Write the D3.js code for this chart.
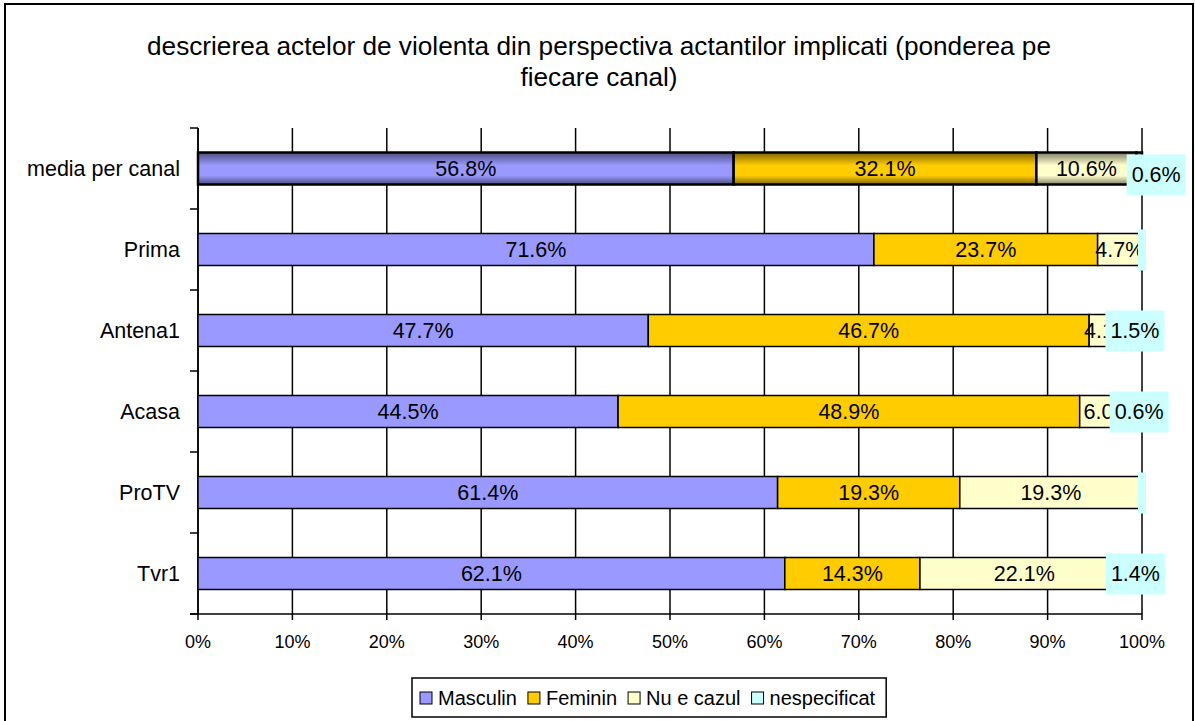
<!DOCTYPE html>
<html>
<head>
	<meta charset="utf-8">
	<script src="https://d3js.org/d3.v7.min.js"></script>
	<title>descrierea actelor de violenta</title>
	<style>
		body { margin: 0; background: #fff; }
		svg text { font-family: "Liberation Sans", Arial, sans-serif; fill: #000; }
	</style>
</head>
<body>
	<div id="chart"></div>

	<script type="text/javascript">

		// values (percent per channel)
		var categories = ["media per canal", "Prima", "Antena1", "Acasa", "ProTV", "Tvr1"];
		var seriesNames = ["Masculin", "Feminin", "Nu e cazul", "nespecificat"];
		var masculin = [56.8, 71.6, 47.7, 44.5, 61.4, 62.1];
		var feminin = [32.1, 23.7, 46.7, 48.9, 19.3, 14.3];
		var nuECazul = [10.6, 4.7, 4.1, 6.0, 19.3, 22.1];
		var nespecificat = [0.6, 0.0, 1.5, 0.6, 0.0, 1.4];
		var colors = ["#9999FF", "#FFCC00", "#FFFFCC", "#CCFFFF"];
		var shadeColors = ["#4d4d80", "#806600", "#80806a", "#668080"];
		var titleLines = ["descrierea actelor de violenta din perspectiva actantilor implicati (ponderea pe",
						  "fiecare canal)"];

		var svgwidth = 1195;
		var svgheight = 721;
		var plotLeft = 198, plotRight = 1142, plotTop = 128, plotBottom = 614;

		var data = categories.map(function(c, i){
			return {
				cat: c,
				Masculin: masculin[i],
				Feminin: feminin[i],
				"Nu e cazul": nuECazul[i],
				nespecificat: nespecificat[i]
			};
		});

		var stacked = d3.stack()
			.keys(seriesNames)
			.offset(d3.stackOffsetExpand)(data);

		var xScale = d3.scaleLinear().domain([0, 1]).range([plotLeft, plotRight]);
		var yScale = d3.scaleBand()
			.domain(categories)
			.range([plotTop, plotBottom])
			.paddingInner(0.605)
			.paddingOuter(0.3025);
		var color = d3.scaleOrdinal().domain(seriesNames).range(colors);

		var svg = d3.select("#chart").append("svg")
			.attr("width", svgwidth)
			.attr("height", svgheight);

		// gradients for the first (average) bar
		var defs = svg.append("defs");
		seriesNames.forEach(function(s, i){
			var g = defs.append("linearGradient")
				.attr("id", "grad" + i)
				.attr("x1", 0).attr("y1", 0).attr("x2", 0).attr("y2", 1);
			g.append("stop").attr("offset", "0%").attr("stop-color", shadeColors[i]);
			g.append("stop").attr("offset", "40%").attr("stop-color", colors[i]);
			g.append("stop").attr("offset", "72%").attr("stop-color", colors[i]);
			g.append("stop").attr("offset", "100%").attr("stop-color", shadeColors[i]);
		});

		// outer frame
		svg.append("rect")
			.attr("x", 5).attr("y", 4)
			.attr("width", 1188).attr("height", 730)
			.attr("fill", "none")
			.attr("stroke", "#000")
			.attr("stroke-width", 2);

		// title
		svg.append("g").selectAll("text")
			.data(titleLines).enter().append("text")
			.attr("x", 599)
			.attr("y", function(d, i){ return 55 + i * 31; })
			.attr("text-anchor", "middle")
			.style("font-size", "26.2px")
			.text(function(d){ return d; });

		// vertical gridlines
		svg.append("g").selectAll("line")
			.data(xScale.ticks(10)).enter().append("line")
			.attr("x1", function(d){ return xScale(d); })
			.attr("x2", function(d){ return xScale(d); })
			.attr("y1", plotTop).attr("y2", plotBottom + 6)
			.attr("stroke", "#000")
			.attr("stroke-width", 1.5);

		// category boundary ticks
		var bounds = d3.range(categories.length + 1).map(function(i){ return plotTop + i * yScale.step(); });
		svg.append("g").selectAll("line")
			.data(bounds).enter().append("line")
			.attr("x1", plotLeft - 8).attr("x2", plotLeft)
			.attr("y1", function(d){ return d; })
			.attr("y2", function(d){ return d; })
			.attr("stroke", "#000")
			.attr("stroke-width", 1.5);

		// axis lines
		svg.append("line")
			.attr("x1", plotLeft).attr("x2", plotLeft)
			.attr("y1", plotTop).attr("y2", plotBottom)
			.attr("stroke", "#000").attr("stroke-width", 1.5);
		svg.append("line")
			.attr("x1", plotLeft - 8).attr("x2", plotRight)
			.attr("y1", plotBottom).attr("y2", plotBottom)
			.attr("stroke", "#000").attr("stroke-width", 1.5);

		// tick labels
		svg.append("g").selectAll("text")
			.data(xScale.ticks(10)).enter().append("text")
			.attr("x", function(d){ return xScale(d); })
			.attr("y", 648)
			.attr("text-anchor", "middle")
			.style("font-size", "18px")
			.text(d3.format(".0%"));

		// category labels
		svg.append("g").selectAll("text")
			.data(categories).enter().append("text")
			.attr("x", 180)
			.attr("y", function(d){ return yScale(d) + yScale.bandwidth() / 2; })
			.attr("dy", "0.35em")
			.attr("text-anchor", "end")
			.style("font-size", "21.5px")
			.text(function(d){ return d; });

		// bars
		var layers = svg.append("g").selectAll("g")
			.data(stacked).enter().append("g");

		layers.selectAll("rect")
			.data(function(d){ return d.map(function(p){ return {key: d.key, idx: d.index, p: p}; }); })
			.enter().append("rect")
			.attr("x", function(d){ return xScale(d.p[0]); })
			.attr("y", function(d){ return yScale(d.p.data.cat); })
			.attr("width", function(d){ return xScale(d.p[1]) - xScale(d.p[0]); })
			.attr("height", yScale.bandwidth())
			.attr("fill", function(d){
				return d.p.data.cat === categories[0] ? "url(#grad" + d.idx + ")" : color(d.key);
			})
			.attr("stroke", "#000")
			.attr("stroke-width", function(d){ return d.p.data.cat === categories[0] ? 2.5 : 1.5; });

		// value labels
		var labels = svg.append("g");
		stacked.forEach(function(layer, li){
			layer.forEach(function(p){
				var v = p.data[layer.key];
				var cx = (xScale(p[0]) + xScale(p[1])) / 2;
				var cy = yScale(p.data.cat) + yScale.bandwidth() / 2;
				var last = li === seriesNames.length - 1;
				if (last && p.data.cat === categories[0]) { cx += 17; cy += 6; }
				var g = labels.append("g");
				var t = g.append("text")
					.attr("x", cx).attr("y", cy)
					.attr("dy", "0.35em")
					.attr("text-anchor", "middle")
					.style("font-size", "21.5px")
					.text(v > 0 ? v.toFixed(1) + "%" : "");
				if (last) {
					var w = v > 0 ? t.node().getComputedTextLength() + 10 : 8;
					g.insert("rect", "text")
						.attr("x", cx - w / 2).attr("y", cy - 20)
						.attr("width", w).attr("height", 41)
						.attr("fill", colors[3]);
				}
			});
		});

		// legend
		var legend = svg.append("g");
		var lx = 420;
		seriesNames.forEach(function(s, i){
			legend.append("rect")
				.attr("x", lx).attr("y", 692)
				.attr("width", 12).attr("height", 12)
				.attr("fill", colors[i])
				.attr("stroke", "#000").attr("stroke-width", 1);
			var t = legend.append("text")
				.attr("x", lx + 18).attr("y", 705)
				.style("font-size", "20px")
				.text(s);
			lx += 18 + t.node().getComputedTextLength() + 11;
		});
		legend.insert("rect", ":first-child")
			.attr("x", 412).attr("y", 678)
			.attr("width", lx - 412).attr("height", 39)
			.attr("fill", "#fff")
			.attr("stroke", "#000").attr("stroke-width", 1.5);

	</script>

</body>
</html>
